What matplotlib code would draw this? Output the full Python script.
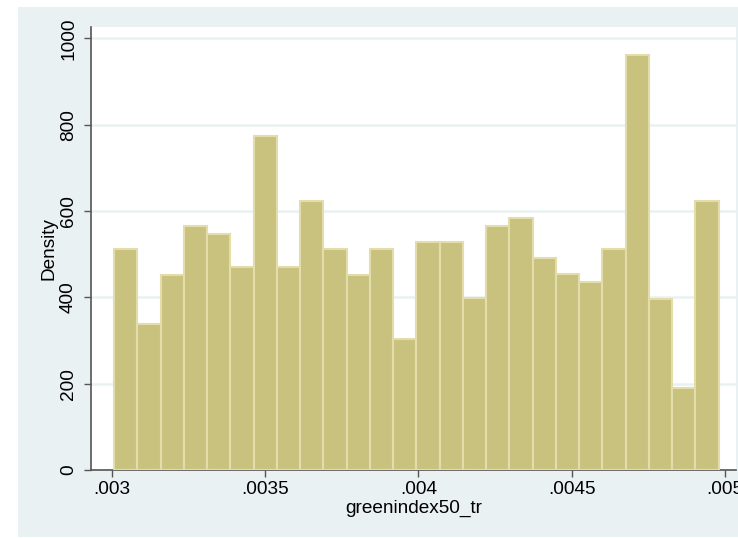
import numpy as np
import matplotlib
matplotlib.use("Agg")
import matplotlib.pyplot as plt
from matplotlib.patches import Rectangle

# Data
bin_start = 0.0030065
bin_end = 0.00498
density = [511, 339, 453, 565, 547, 471, 774, 471, 623, 511, 453, 511, 303,
           528, 528, 399, 565, 583, 492, 454, 435, 511, 962, 397, 190, 623]
x_ticks = [0.003, 0.0035, 0.004, 0.0045, 0.005]
x_tick_labels = [".003", ".0035", ".004", ".0045", ".005"]
y_ticks = [0, 200, 400, 600, 800, 1000]
y_tick_labels = ["0", "200", "400", "600", "800", "1000"]

edges = np.linspace(bin_start, bin_end, len(density) + 1)

plt.rcParams['font.family'] = ['Liberation Sans', 'DejaVu Sans']

W, H = 738, 538
fig = plt.figure(figsize=(W / 100, H / 100), dpi=100)
fig.patch.set_facecolor('white')

panel_color = '#eaf1f3'
fig.patches.append(Rectangle((18 / W, 1 / H), 1 - 18 / W, 1 - 8 / H,
                             transform=fig.transFigure, facecolor=panel_color,
                             edgecolor='none', zorder=-10))

ax = fig.add_axes([91 / W, 1 - 470 / H, (736 - 91) / W, (470 - 27) / H])
ax.set_zorder(5)
ax.set_facecolor('white')

ax.bar(edges[:-1], density, width=np.diff(edges), align='edge',
       color='#c9c27f', edgecolor='#e2ddab', linewidth=1.5, zorder=3)

ax.set_xlim(0.0029314, 0.005037)
ax.set_ylim(0, 1026.6)

ax.set_yticks(y_ticks)
ax.set_yticklabels(y_tick_labels, rotation=90, va='center')
ax.set_xticks(x_ticks)
ax.set_xticklabels(x_tick_labels)

ax.grid(axis='y', color=panel_color, linewidth=1.8, zorder=1)
ax.grid(axis='x', visible=False)

for s in ['top', 'right']:
    ax.spines[s].set_visible(False)
for s in ['left', 'bottom']:
    ax.spines[s].set_color('#555555')
    ax.spines[s].set_linewidth(1.2)

ax.tick_params(axis='both', direction='out', length=5, width=1.0,
               color='#555555', labelsize=13.7, labelcolor='black')
ax.tick_params(axis='y', pad=5)
ax.tick_params(axis='x', pad=3)

ax.set_ylabel('Density', fontsize=13.7, labelpad=2)
ax.set_xlabel('greenindex50_tr', fontsize=13.7, labelpad=1)

fig.savefig('out.png', dpi=100)
